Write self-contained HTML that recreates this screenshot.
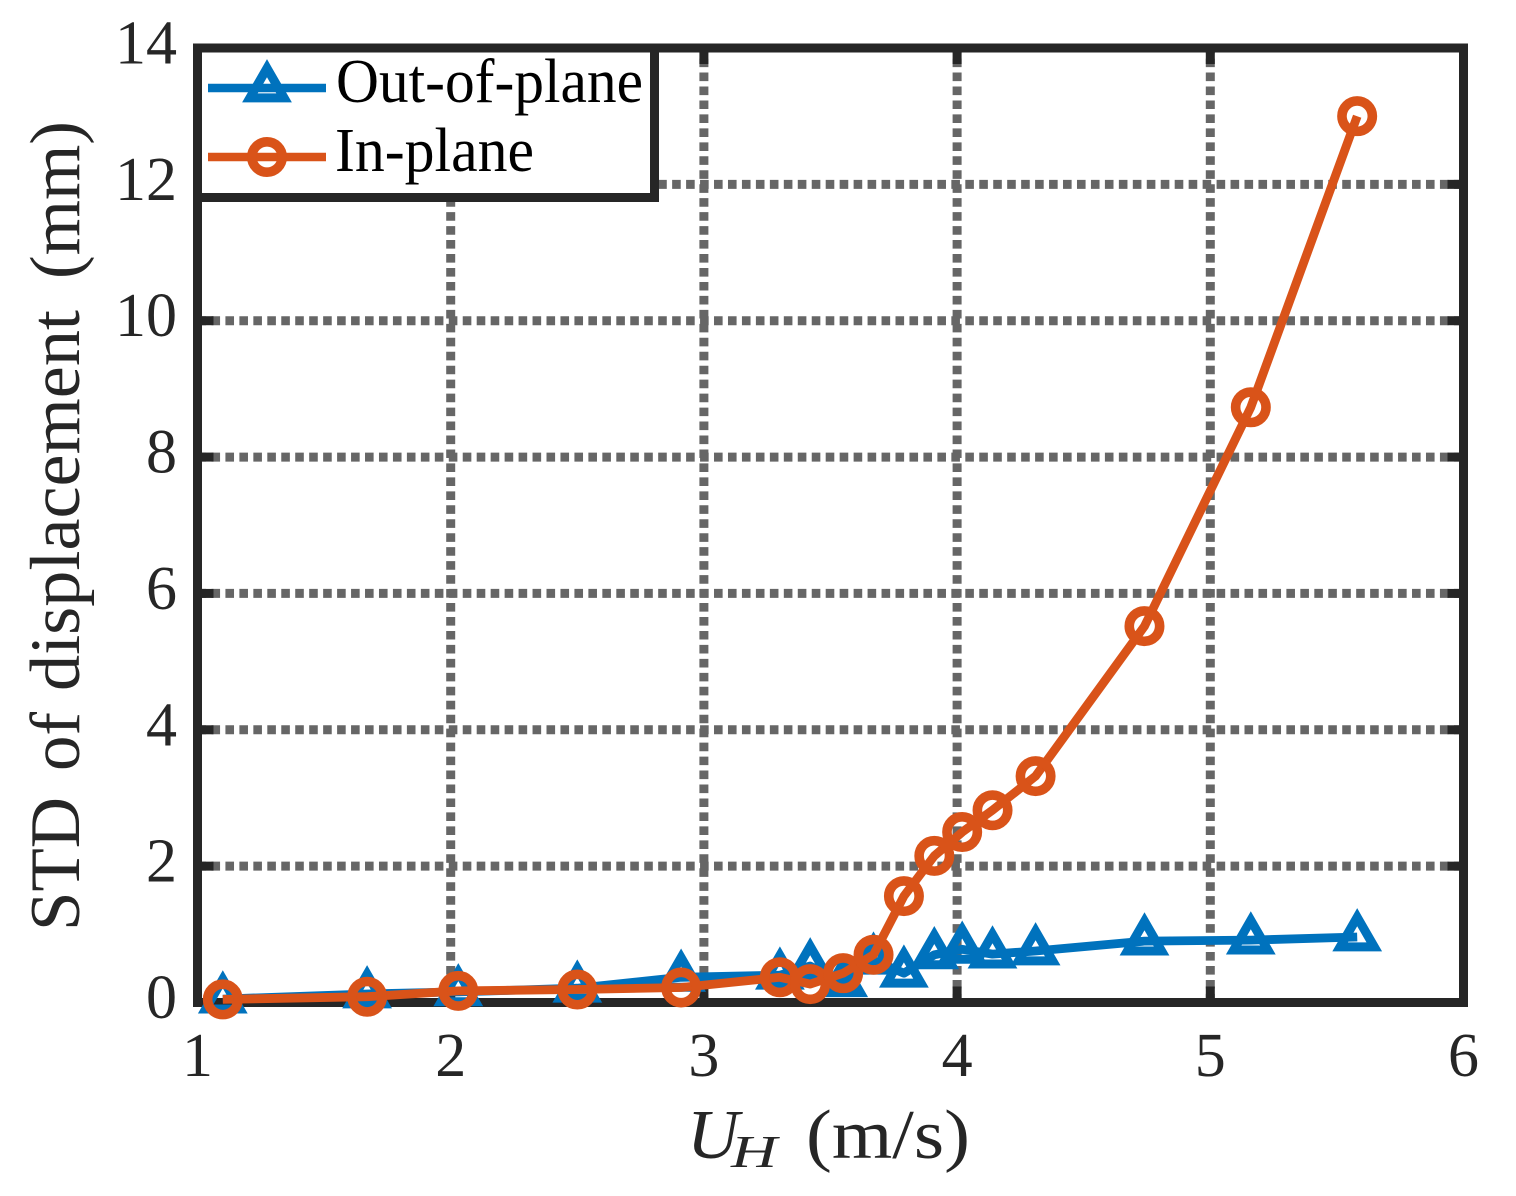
<!DOCTYPE html>
<html lang="en">
<head>
<meta charset="utf-8">
<title>STD of displacement vs U_H</title>
<style>
html,body{margin:0;padding:0;background:#fff;}
svg{display:block;}
text{font-family:"Liberation Serif",serif;fill:#262626;}
</style>
</head>
<body>
<svg id="chart" xmlns="http://www.w3.org/2000/svg" width="1516" height="1196" viewBox="0 0 1516 1196">
  <rect x="0" y="0" width="1516" height="1196" fill="#ffffff"/>
  <g id="grid"></g>
  <g id="ticks"></g>
  <rect x="197.5" y="48" width="1266" height="954.5" fill="none" stroke="#262626" stroke-width="9"/>
  <g id="xlabels"></g>
  <g id="ylabels"></g>
  <g id="series"></g>
  <g>
    <text x="687" y="1158" font-size="70" font-style="italic" textLength="52" lengthAdjust="spacingAndGlyphs">U</text>
    <text x="731" y="1167" font-size="46" font-style="italic" textLength="46" lengthAdjust="spacingAndGlyphs">H</text>
    <text x="806" y="1158" font-size="70" textLength="164" lengthAdjust="spacingAndGlyphs">(m/s)</text>
  </g>
  <g>
    <text transform="translate(79,931) rotate(-90)" font-size="71" textLength="134" lengthAdjust="spacingAndGlyphs">STD</text>
    <text transform="translate(79,771) rotate(-90)" font-size="71" textLength="59" lengthAdjust="spacingAndGlyphs">of</text>
    <text transform="translate(79,691) rotate(-90)" font-size="71" textLength="381" lengthAdjust="spacingAndGlyphs">displacement</text>
    <text transform="translate(79,279) rotate(-90)" font-size="71" textLength="158" lengthAdjust="spacingAndGlyphs">(mm)</text>
  </g>
  <g>
    <rect x="197.5" y="48" width="457" height="149.5" fill="#ffffff" stroke="#262626" stroke-width="9"/>
    <g>
      <line x1="208" y1="88" x2="326" y2="88" stroke="#0072bd" stroke-width="8.6"/>
      <polygon points="267,68.2 284.1,97.9 249.9,97.9" fill="none" stroke="#0072bd" stroke-width="9"/>
      <text x="336" y="102" font-size="62" style="fill:#000" textLength="307" lengthAdjust="spacingAndGlyphs">Out-of-plane</text>
    </g>
    <g>
      <line x1="208" y1="157" x2="326" y2="157" stroke="#d95319" stroke-width="8.6"/>
      <circle cx="267" cy="157" r="15.2" fill="none" stroke="#d95319" stroke-width="9.6"/>
      <text x="335" y="171" font-size="62" style="fill:#000" textLength="199" lengthAdjust="spacingAndGlyphs">In-plane</text>
    </g>
  </g>
</svg>
<script>
const xTicks = [1, 2, 3, 4, 5, 6];
const yTicks = [0, 2, 4, 6, 8, 10, 12, 14];
const windSpeed = [1.10, 1.67, 2.03, 2.50, 2.91, 3.30, 3.42, 3.55, 3.67, 3.79, 3.91, 4.02, 4.14, 4.31, 4.74, 5.16, 5.58];
const outOfPlane = [0.05, 0.125, 0.155, 0.21, 0.37, 0.40, 0.535, 0.29, 0.62, 0.43, 0.70, 0.78, 0.71, 0.755, 0.90, 0.915, 0.96];
const inPlane = [0.045, 0.085, 0.17, 0.19, 0.22, 0.37, 0.27, 0.43, 0.70, 1.56, 2.15, 2.50, 2.82, 3.32, 5.52, 8.73, 13.0];

const NS = 'http://www.w3.org/2000/svg';
const xLeft = 197.5, xRight = 1463.5, yBottom = 1002.5, yTop = 48;
const xMin = 1, xMax = 6, yMin = 0, yMax = 14;
function xScale(v) { return xLeft + (v - xMin) / (xMax - xMin) * (xRight - xLeft); }
function yScale(v) { return yBottom - (v - yMin) / (yMax - yMin) * (yBottom - yTop); }
function make(tag, attrs, parent) {
  const el = document.createElementNS(NS, tag);
  for (const k in attrs) el.setAttribute(k, attrs[k]);
  parent.appendChild(el);
  return el;
}
const gridG = document.getElementById('grid');
const tickG = document.getElementById('ticks');
const xLabG = document.getElementById('xlabels');
const yLabG = document.getElementById('ylabels');
const seriesG = document.getElementById('series');
const gridStyle = { stroke: '#666666', 'stroke-width': 9, 'stroke-dasharray': '8.6 5.36', fill: 'none' };
const tickLen = 16;

xTicks.forEach(function (t) {
  const x = xScale(t);
  const g = make('line', Object.assign({ x1: x, y1: yBottom, x2: x, y2: yTop }, gridStyle), gridG);
  
  
  const t1 = make('line', { x1: x, y1: yBottom, x2: x, y2: yBottom - tickLen, stroke: '#262626', 'stroke-width': 9 }, tickG);
  
  
  const t2 = make('line', { x1: x, y1: yTop, x2: x, y2: yTop + tickLen, stroke: '#262626', 'stroke-width': 9 }, tickG);
  
  
  const lab = make('text', { x: x, y: 1076, 'font-size': 62, 'text-anchor': 'middle' }, xLabG);
  
  
  lab.textContent = String(t);
});

yTicks.forEach(function (t) {
  const y = yScale(t);
  const g = make('line', Object.assign({ x1: xLeft, y1: y, x2: xRight, y2: y }, gridStyle), gridG);
  
  
  const t1 = make('line', { x1: xLeft, y1: y, x2: xLeft + tickLen, y2: y, stroke: '#262626', 'stroke-width': 9 }, tickG);
  
  
  const t2 = make('line', { x1: xRight, y1: y, x2: xRight - tickLen, y2: y, stroke: '#262626', 'stroke-width': 9 }, tickG);
  
  
  const lab = make('text', { x: 177, y: y + 15.5, 'font-size': 62, 'text-anchor': 'end' }, yLabG);
  
  
  lab.textContent = String(t);
});

function linePoints(values) {
  return values.map(function (v, i) { return xScale(windSpeed[i]).toFixed(1) + ',' + yScale(v).toFixed(1); }).join(' ');
}

const blueLine = make('polyline', { points: linePoints(outOfPlane), fill: 'none', stroke: '#0072bd', 'stroke-width': 8.8, 'stroke-linejoin': 'round' }, seriesG);


outOfPlane.forEach(function (v, i) {
  const cx = xScale(windSpeed[i]), cy = yScale(v);
  const pts = [[cx, cy - 19.8], [cx + 17.1, cy + 9.9], [cx - 17.1, cy + 9.9]].map(function (p) { return p[0].toFixed(1) + ',' + p[1].toFixed(1); }).join(' ');
  const m = make('polygon', { points: pts, fill: 'none', stroke: '#0072bd', 'stroke-width': 9 }, seriesG);
  
  
});

const orangeLine = make('polyline', { points: linePoints(inPlane), fill: 'none', stroke: '#d95319', 'stroke-width': 8.8, 'stroke-linejoin': 'round' }, seriesG);


inPlane.forEach(function (v, i) {
  const m = make('circle', { cx: xScale(windSpeed[i]), cy: yScale(v), r: 15.2, fill: 'none', stroke: '#d95319', 'stroke-width': 9.6 }, seriesG);
  
  
});
</script>
</body>
</html>
